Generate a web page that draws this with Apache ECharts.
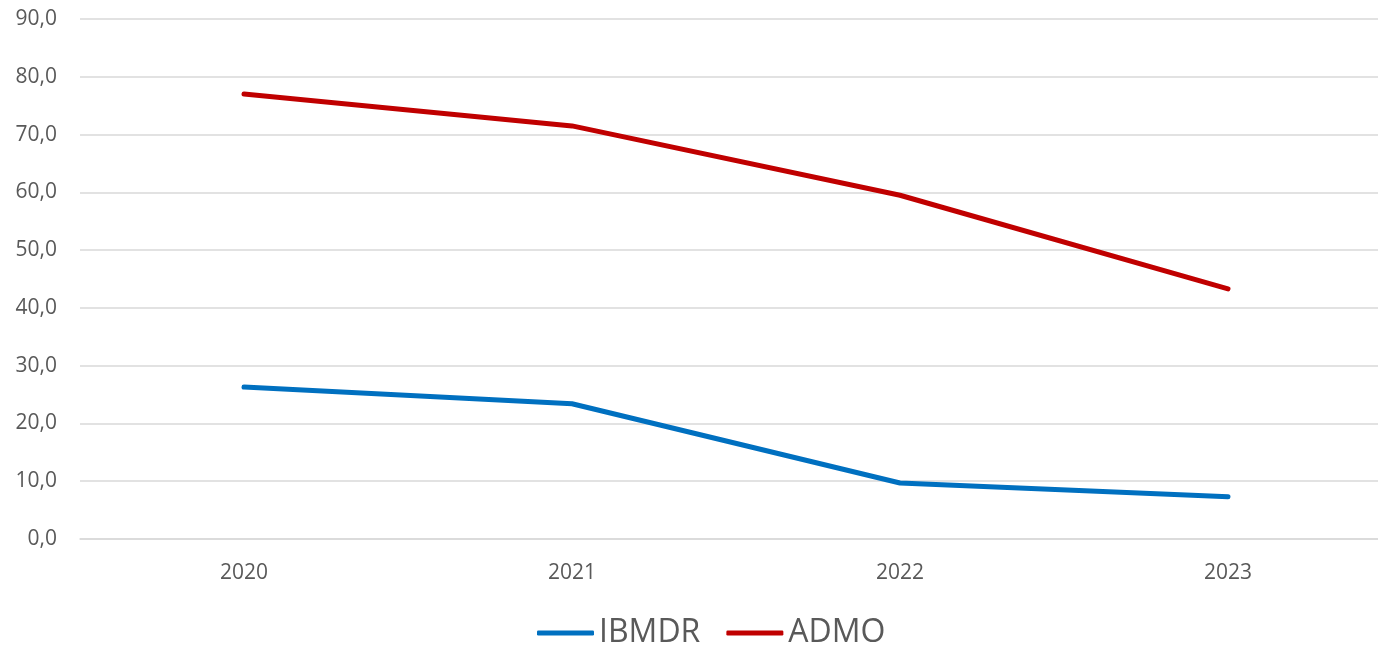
<!DOCTYPE html>
<html>
<head>
<meta charset="utf-8">
<script src="https://cdn.jsdelivr.net/npm/echarts@6/dist/echarts.min.js"></script>
<style>html,body{margin:0;padding:0;background:#fff}#c{width:1378px;height:648px}</style>
</head>
<body>
<div id="c"></div>
<script>
const categories = ['2020', '2021', '2022', '2023'];
const ibmdr = [26.3, 23.4, 9.7, 7.3];
const admo = [77.0, 71.5, 59.5, 43.3];
const yTicks = { min: 0, max: 90, interval: 10 };

const chart = echarts.init(document.getElementById('c'), null, { renderer: 'canvas' });
const font = '"Open Sans", "Noto Sans", sans-serif';
chart.setOption({
  animation: false,
  backgroundColor: '#ffffff',
  grid: { left: 80, top: 19, width: 1312, height: 520, outerBoundsMode: 'none', containLabel: false },
  xAxis: {
    type: 'category',
    data: categories,
    boundaryGap: true,
    axisLine: { show: true, lineStyle: { color: '#d9d9d9', width: 1.5 } },
    axisTick: { show: false },
    axisLabel: { color: '#595959', fontSize: 21, fontFamily: font, margin: 24 }
  },
  yAxis: {
    type: 'value',
    min: yTicks.min, max: yTicks.max, interval: yTicks.interval,
    axisLine: { show: false },
    axisTick: { show: false },
    splitLine: { lineStyle: { color: '#d9d9d9', width: 1.5 } },
    axisLabel: {
      color: '#595959', fontSize: 21, fontFamily: font, margin: 23,
      formatter: v => v.toFixed(1).replace('.', ',')
    }
  },
  legend: {
    top: 612,
    left: 532,
    itemWidth: 57,
    itemHeight: 5,
    itemGap: 26,
    icon: 'roundRect',
    textStyle: { color: '#595959', fontSize: 32, fontFamily: font },
    data: ['IBMDR', 'ADMO']
  },
  series: [
    { name: 'IBMDR', type: 'line', data: ibmdr, symbol: 'none', color: '#0070C0',
      lineStyle: { color: '#0070C0', width: 5, cap: 'round', join: 'round' } },
    { name: 'ADMO', type: 'line', data: admo, symbol: 'none', color: '#C00000',
      lineStyle: { color: '#C00000', width: 5, cap: 'round', join: 'round' } }
  ]
});
</script>
</body>
</html>
